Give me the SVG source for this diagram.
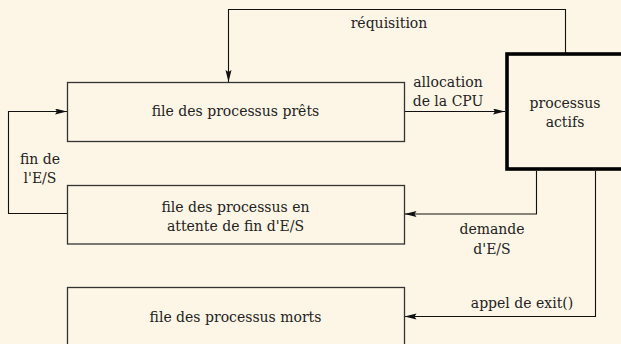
<svg xmlns="http://www.w3.org/2000/svg" width="621" height="344" viewBox="0 0 621 344">
<defs>
<marker id="arr" markerUnits="userSpaceOnUse" markerWidth="13" markerHeight="8" refX="12" refY="3" orient="auto">
<path d="M0,0 L12,3 L0,6 L2,3 z" fill="#111"/>
</marker>
<style>
.box{fill:none;stroke:#333;stroke-width:1.3}
.act{fill:none;stroke:#000;stroke-width:3.6}
.c{fill:none;stroke:#111;stroke-width:1.1;marker-end:url(#arr)}
text{font-family:"DejaVu Serif","Liberation Serif",serif;font-size:14px;fill:#222;text-anchor:middle}
</style>
</defs>
<rect width="621" height="344" fill="#fdf6e6"/>
<g id="connectors">
<path class="c" d="M565.5,53 V9.5 H228.5 V82"/>
<path class="c" d="M404,111.5 H505"/>
<path class="c" d="M67,213.5 H8.5 V111.5 H67"/>
<path class="c" d="M536.5,171 V214 H404.5"/>
<path class="c" d="M595.5,171 V316.5 H404.5"/>
<text x="389" y="28">réquisition</text>
<text x="448" y="87">allocation</text>
<text x="448" y="105.5">de la CPU</text>
<text x="40" y="164">fin de</text>
<text x="40" y="183">l'E/S</text>
<text x="492" y="234">demande</text>
<text x="492" y="254">d'E/S</text>
<text x="522" y="308">appel de exit()</text>
</g>
<g id="pretes">
<rect class="box" x="67.5" y="82.5" width="337" height="59"/>
<text x="235.5" y="116">file des processus prêts</text>
</g>
<g id="attente">
<rect class="box" x="67.5" y="185.5" width="337" height="58.5"/>
<text x="235.5" y="211.5">file des processus en</text>
<text x="235.5" y="230.5">attente de fin d'E/S</text>
</g>
<g id="morts">
<rect class="box" x="67.5" y="287.5" width="337" height="70"/>
<text x="235.5" y="321.5">file des processus morts</text>
</g>
<g id="actifs">
<rect class="act" x="507" y="54" width="116" height="115"/>
<text x="565" y="108">processus</text>
<text x="565" y="127">actifs</text>
</g>
</svg>
